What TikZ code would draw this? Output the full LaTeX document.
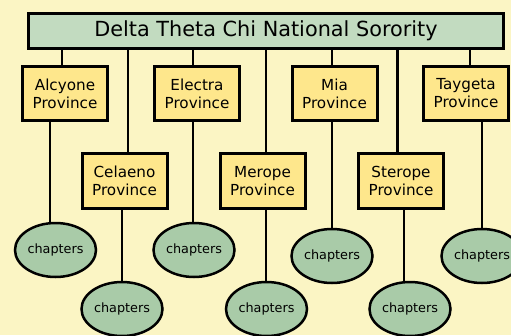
\documentclass[tikz,border=0pt]{standalone}
\usepackage{fontspec}
\setmainfont{DejaVu Sans}
\usetikzlibrary{shapes.geometric}
\definecolor{bgcol}{HTML}{FBF5C4}
\definecolor{topcol}{HTML}{C2DBC0}
\definecolor{provcol}{HTML}{FEE78C}
\definecolor{chapcol}{HTML}{A9CBA8}
\begin{document}
\begin{tikzpicture}[x=1pt,y=-1pt,
  titlebox/.style={draw=black,line width=3pt,fill=topcol,inner sep=0pt,
    minimum width=475pt,minimum height=35pt,
    font=\fontsize{20.8}{24}\selectfont},
  provbox/.style={draw=black,line width=3pt,fill=provcol,inner sep=0pt,
    minimum width=85pt,minimum height=54pt,align=center,
    font=\fontsize{15.2}{18}\selectfont},
  chapnode/.style={ellipse,draw=black,line width=2.5pt,fill=chapcol,inner sep=0pt,
    minimum width=81pt,minimum height=54pt,
    font=\fontsize{12.8}{15}\selectfont},
  conn/.style={draw=black,line width=2.6pt}]
\fill[bgcol] (0,0) rectangle (511,335);
\useasboundingbox (0,0) rectangle (511,335);
% nodes
\node[titlebox] (top) at (266,31) {\raisebox{-2pt}{Delta Theta Chi National Sorority}};
\node[provbox] (alc) at (65,93.5) {Alcyone\\Province};
\node[provbox] (ele) at (197,93.5) {Electra\\Province};
\node[provbox] (mia) at (334.5,93.5) {Mia\\Province};
\node[provbox] (tay) at (466,93.5) {Taygeta\\Province};
\node[provbox,minimum height=55pt] (cel) at (124.5,181) {Celaeno\\Province};
\node[provbox,minimum height=55pt] (mer) at (262.5,181) {Merope\\Province};
\node[provbox,minimum height=55pt] (ste) at (401,181) {Sterope\\Province};
\node[chapnode] (chA) at (55.5,250) {\raisebox{-3pt}{chapters}};
\node[chapnode] (chE) at (194,250) {\raisebox{-3pt}{chapters}};
\node[chapnode] (chM) at (332,256) {\raisebox{-3pt}{chapters}};
\node[chapnode] (chT) at (482,256) {\raisebox{-3pt}{chapters}};
\node[chapnode] (chC) at (122,309) {\raisebox{-3pt}{chapters}};
\node[chapnode] (chR) at (266.5,309) {\raisebox{-3pt}{chapters}};
\node[chapnode] (chS) at (410,309) {\raisebox{-3pt}{chapters}};
% top to first row
\draw[conn] ([xshift=-3pt]alc.north) -- ([xshift=-3pt]alc.north |- top.south);
\draw[conn] ([xshift=-4pt]ele.north) -- ([xshift=-4pt]ele.north |- top.south);
\draw[conn] ([xshift=-2.5pt]mia.north) -- ([xshift=-2.5pt]mia.north |- top.south);
\draw[conn] ([xshift=4pt]tay.north) -- ([xshift=4pt]tay.north |- top.south);
% top to second row
\draw[conn] ([xshift=3.5pt]cel.north) -- ([xshift=3.5pt]cel.north |- top.south);
\draw[conn] ([xshift=3.5pt]mer.north) -- ([xshift=3.5pt]mer.north |- top.south);
\draw[conn] ([xshift=-3.5pt]ste.north) -- ([xshift=-3.5pt]ste.north |- top.south);
% provinces to chapters
\draw[conn] ([xshift=-5.5pt]chA.north) -- ([xshift=-5.5pt]chA.north |- alc.south);
\draw[conn] ([xshift=-1pt]chE.north) -- ([xshift=-1pt]chE.north |- ele.south);
\draw[conn] (chM.north) -- (chM.north |- mia.south);
\draw[conn] (chT.north) -- (chT.north |- tay.south);
\draw[conn] (chC.north) -- (chC.north |- cel.south);
\draw[conn] ([xshift=-0.5pt]chR.north) -- ([xshift=-0.5pt]chR.north |- mer.south);
\draw[conn] ([xshift=-6pt]chS.north) -- ([xshift=-6pt]chS.north |- ste.south);
\end{tikzpicture}
\end{document}
